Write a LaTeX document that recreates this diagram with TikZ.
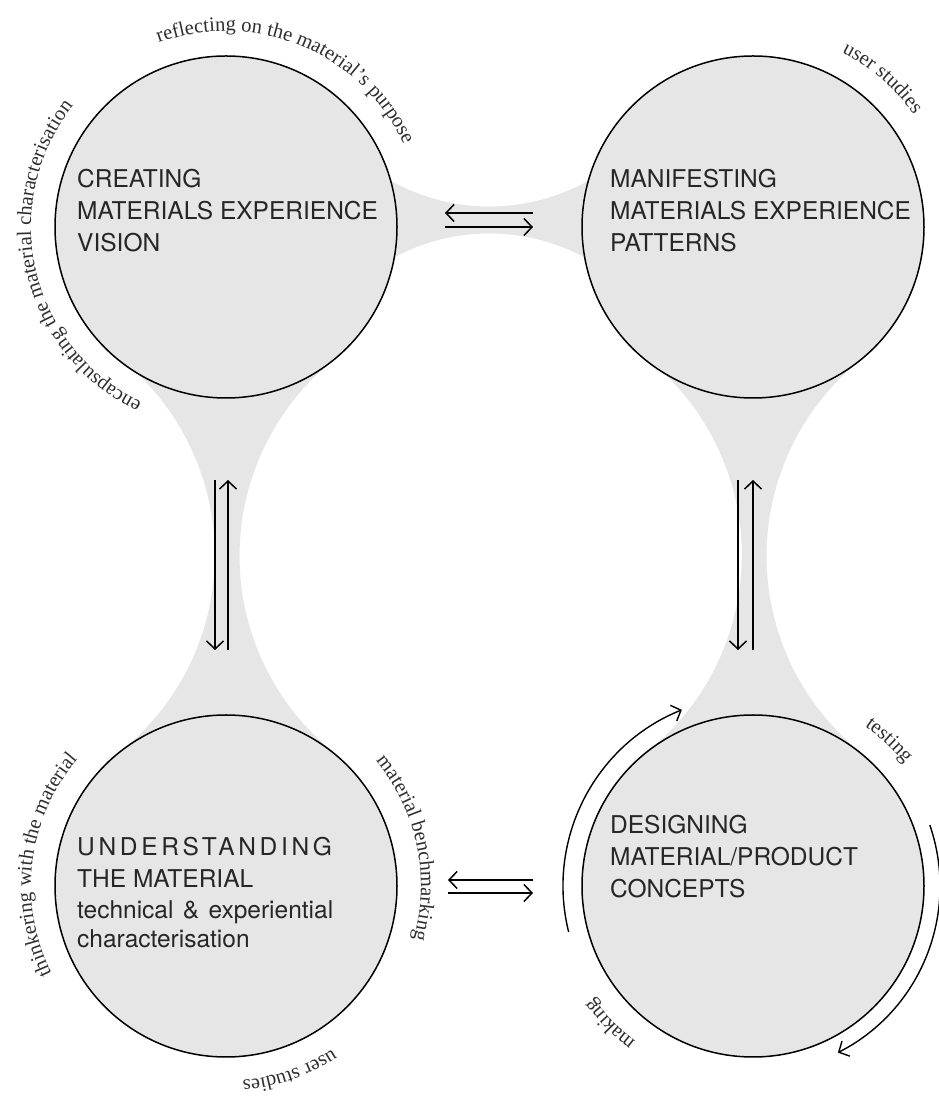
\documentclass[tikz,border=0pt]{standalone}
\usepackage{fontspec}
\setmainfont{Liberation Serif}
\setsansfont{TeX Gyre Heros}
\newfontfamily\widesans[LetterSpace=15]{TeX Gyre Heros}
\usetikzlibrary{arrows.meta,decorations.text,backgrounds}
\definecolor{Disc}{HTML}{E6E6E6}
\definecolor{Ink}{HTML}{262626}
\definecolor{Caption}{HTML}{2E2E2E}
\newcommand{\curvefont}{\fontsize{20.5}{24}\selectfont}

\begin{document}
\begin{tikzpicture}[x=1pt,y=1pt,
  every node/.style={font=\sffamily},
  stage/.style={circle,draw=black,fill=Disc,line width=1.5pt,
    minimum size=342pt,inner sep=0pt,outer sep=0pt},
  neck/.style={fill=Disc},
  stagelabel/.style={anchor=base west,align=left,text=Ink,inner sep=0pt,
    font=\sffamily\fontsize{24.5}{32}\selectfont},
  flow/.style={-{Straight Barb[length=8pt,width=17pt]},line width=1.5pt},
  roundtrip/.style={-{Straight Barb[length=8pt,width=17pt]},line width=1.4pt},
  arclabel/.style={decorate,decoration={text along path,text align=center,
    text={|\curvefont\color{Caption}|#1}}}
]
\useasboundingbox (0,0) rectangle (938,1101);

% the four stages
\node[stage] (vision) at (226,874) {};
\node[stage] (patterns) at (753,874) {};
\node[stage] (material) at (226,215) {};
\node[stage] (concepts) at (753,215) {};

% necks joining the stages
\begin{scope}[on background layer]
\fill[neck] (359.9,941.7) arc[start angle=230,end angle=310,radius=201.7pt]
  -- (619.1,820.3) arc[start angle=50,end angle=130,radius=201.7pt] -- cycle;
\fill[neck] (vision.-51.24) arc[start angle=128.76,end angle=231.24,radius=251.58pt]
  -- (material.128.76) arc[start angle=-51.24,end angle=51.24,radius=251.58pt] -- cycle;
\begin{scope}[xshift=-7pt]
\fill[neck] (patterns.-51.24) arc[start angle=128.76,end angle=231.24,radius=251.58pt]
  -- (concepts.128.76) arc[start angle=-51.24,end angle=51.24,radius=251.58pt] -- cycle;
\end{scope}
\end{scope}

% stage titles, placed at the baseline of their last line
\node[stagelabel] (visiontext) at (77,849) {CREATING\\MATERIALS EXPERIENCE\\VISION};
\node[stagelabel] (patternstext) at (610,849) {MANIFESTING\\MATERIALS EXPERIENCE\\PATTERNS};
\node[stagelabel] (materialtext) at (77,153) {{\widesans UNDERSTANDING}\\THE MATERIAL\\[-1pt]
  \makebox[256pt][s]{technical \& experiential}\\[-3pt]characterisation};
\node[stagelabel] (conceptstext) at (610,203) {DESIGNING\\MATERIAL/PRODUCT\\CONCEPTS};

% two-way arrows
\draw[flow] ([xshift=-49pt,yshift=14pt]patterns.west) -- ([xshift=48pt,yshift=14pt]vision.east);
\draw[flow] ([xshift=48pt]vision.east) -- ([xshift=-49pt]patterns.west);
\draw[flow] ([xshift=-11pt,yshift=-82pt]vision.south) -- ([xshift=-11pt,yshift=65pt]material.north);
\draw[flow] ([xshift=2pt,yshift=65pt]material.north) -- ([xshift=2pt,yshift=-82pt]vision.south);
\draw[flow] ([xshift=-15pt,yshift=-82pt]patterns.south) -- ([xshift=-15pt,yshift=65pt]concepts.north);
\draw[flow] ([yshift=65pt]concepts.north) -- ([yshift=-82pt]patterns.south);
\draw[flow] ([xshift=-49pt,yshift=6pt]concepts.west) -- ([xshift=51pt,yshift=6pt]material.east);
\draw[flow] ([xshift=51pt,yshift=-7pt]material.east) -- ([xshift=-49pt,yshift=-7pt]concepts.west);

% making and testing cycle
\draw[roundtrip] ([shift={(194:190pt)}]concepts.center) arc[start angle=194,end angle=112,radius=190pt];
\draw[roundtrip] ([shift={(19:187pt)}]concepts.center) arc[start angle=19,end angle=-63,radius=187pt];

% activities written round the stages
\path[arclabel={reflecting on the material's purpose}]
  ([shift={(137.5:196pt)}]vision.center) arc[start angle=137.5,end angle=-2.5,radius=196pt];
\path[arclabel={encapsulating the material characterisation}]
  ([shift={(263:195pt)}]vision.center) arc[start angle=263,end angle=123,radius=195pt];
\path[arclabel={user studies}]
  ([shift={(119:196pt)}]patterns.center) arc[start angle=119,end angle=-21,radius=196pt];
\path[arclabel={thinkering with the material}]
  ([shift={(243:195pt)}]material.center) arc[start angle=243,end angle=103,radius=195pt];
\path[arclabel={material benchmarking}]
  ([shift={(82:195pt)}]material.center) arc[start angle=82,end angle=-58,radius=195pt];
\path[arclabel={user studies}]
  ([shift={(-1:195pt)}]material.center) arc[start angle=-1,end angle=-141,radius=195pt];
\path[arclabel={testing}]
  ([shift={(117:195pt)}]concepts.center) arc[start angle=117,end angle=-23,radius=195pt];
\path[arclabel={making}]
  ([shift={(294:195pt)}]concepts.center) arc[start angle=294,end angle=154,radius=195pt];
\end{tikzpicture}
\end{document}
